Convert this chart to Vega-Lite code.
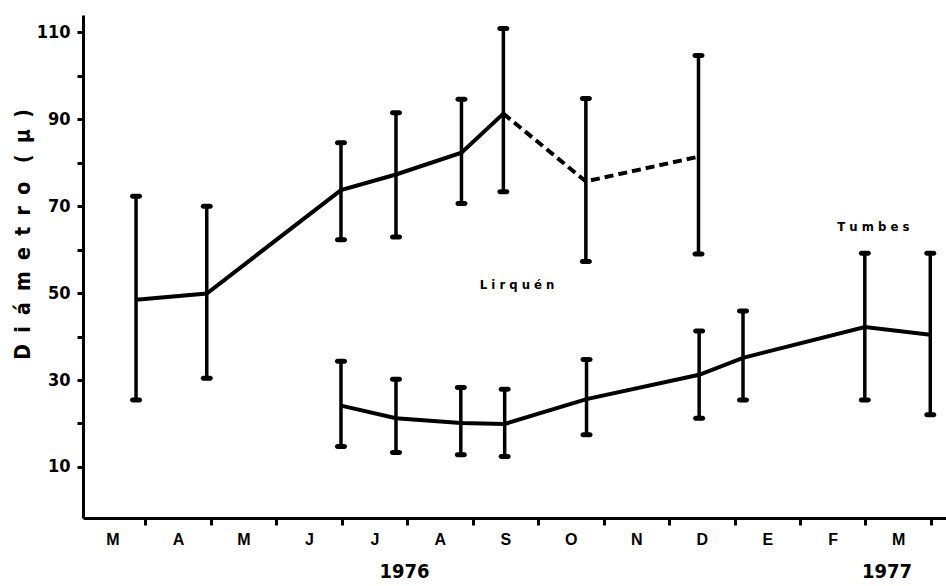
{
  "$schema": "https://vega.github.io/schema/vega-lite/v6.json",
  "width": 863,
  "height": 503,
  "autosize": {"type": "none"},
  "padding": {"left": 83, "top": 15, "right": 0, "bottom": 68},
  "background": "white",
  "config": {"view": {"stroke": null}},
  "datasets": {
    "medidas": [
      {"sitio": "Lirquén", "mes": 0.86, "media": 48.5, "lo": 25.4, "hi": 72.3},
      {"sitio": "Lirquén", "mes": 1.94, "media": 49.9, "lo": 30.4, "hi": 70.0},
      {"sitio": "Lirquén", "mes": 3.99, "media": 73.7, "lo": 62.3, "hi": 84.6},
      {"sitio": "Lirquén", "mes": 4.83, "media": 77.3, "lo": 62.9, "hi": 91.5},
      {"sitio": "Lirquén", "mes": 5.83, "media": 82.3, "lo": 70.6, "hi": 94.6},
      {"sitio": "Lirquén", "mes": 6.47, "media": 91.3, "lo": 73.3, "hi": 110.9},
      {"sitio": "Lirquén", "mes": 7.73, "media": 75.7, "lo": 57.3, "hi": 94.8},
      {"sitio": "Lirquén", "mes": 9.45, "media": 81.4, "lo": 59.0, "hi": 104.7},
      {"sitio": "Tumbes", "mes": 3.99, "media": 24.1, "lo": 14.7, "hi": 34.3},
      {"sitio": "Tumbes", "mes": 4.83, "media": 21.2, "lo": 13.3, "hi": 30.2},
      {"sitio": "Tumbes", "mes": 5.82, "media": 20.1, "lo": 12.8, "hi": 28.3},
      {"sitio": "Tumbes", "mes": 6.49, "media": 19.9, "lo": 12.4, "hi": 27.9},
      {"sitio": "Tumbes", "mes": 7.74, "media": 25.6, "lo": 17.4, "hi": 34.7},
      {"sitio": "Tumbes", "mes": 9.46, "media": 31.2, "lo": 21.2, "hi": 41.3},
      {"sitio": "Tumbes", "mes": 10.13, "media": 35.1, "lo": 25.4, "hi": 45.9},
      {"sitio": "Tumbes", "mes": 11.99, "media": 42.2, "lo": 25.4, "hi": 59.2},
      {"sitio": "Tumbes", "mes": 12.99, "media": 40.4, "lo": 22.0, "hi": 59.2}
    ],
    "rotulos": [
      {"texto": "Lirquén", "mes": 6.68, "valor": 51.9, "clase": "sitio"},
      {"texto": "Tumbes", "mes": 12.12, "valor": 65.3, "clase": "sitio"},
      {"texto": "1976", "mes": 4.96, "valor": -14.2, "clase": "año"},
      {"texto": "1977", "mes": 12.33, "valor": -14.2, "clase": "año"}
    ]
  },
  "layer": [
    {
      "data": {"name": "medidas"},
      "transform": [{"filter": "datum.sitio == 'Lirquén' && datum.mes <= 6.5"}],
      "mark": {"type": "line", "color": "black", "strokeWidth": 4},
      "encoding": {
        "x": {
          "field": "mes", "type": "quantitative",
          "scale": {"domain": [0.05, 13.23], "nice": false, "zero": false},
          "axis": {
            "values": [1, 2, 3, 4, 5, 6, 7, 8, 9, 10, 11, 12, 13],
            "labelExpr": "['M','A','M','J','J','A','S','O','N','D','E','F','M'][datum.value - 1]",
            "labelOffset": -32.75,
            "labelFlush": false,
            "labelBound": false,
            "labelOverlap": false,
            "tickSize": 7, "tickWidth": 3, "tickColor": "black",
            "domainColor": "black", "domainWidth": 3,
            "labelFont": "Liberation Sans, Arial, sans-serif", "labelFontWeight": "bold", "labelFontSize": 16,
            "labelColor": "black", "labelPadding": 6,
            "grid": false, "title": null
          }
        },
        "y": {
          "field": "media", "type": "quantitative",
          "scale": {"domain": [-1.75, 114], "nice": false, "zero": false},
          "axis": {
            "values": [10, 20, 30, 40, 50, 60, 70, 80, 90, 100, 110],
            "labelExpr": "datum.value % 20 == 10 ? datum.label : ''",
            "labelOverlap": false,
            "labelFlush": false,
            "tickSize": 6, "tickWidth": 3, "tickColor": "black",
            "domainColor": "black", "domainWidth": 3,
            "labelFont": "DejaVu Sans Condensed, DejaVu Sans, sans-serif", "labelFontWeight": "bold", "labelFontSize": 18,
            "labelColor": "black", "labelPadding": 7,
            "grid": false,
            "title": "D\u2002\u200ai\u2002\u200aá\u2002\u200am\u2002\u200ae\u2002\u200at\u2002\u200ar\u2002\u200ao\u2002\u2002(\u2002\u200aμ\u2002\u200a)",
            "titleFont": "DejaVu Sans Condensed, DejaVu Sans, sans-serif", "titleFontWeight": "bold", "titleFontSize": 21,
            "titleColor": "black",
            "titleX": -60, "titleY": 219, "titleAlign": "center", "titleBaseline": "middle"
          }
        }
      }
    },
    {
      "data": {"name": "medidas"},
      "transform": [{"filter": "datum.sitio == 'Lirquén' && datum.mes >= 6.4"}],
      "mark": {"type": "line", "color": "black", "strokeWidth": 4, "strokeDash": [9, 5]},
      "encoding": {
        "x": {"field": "mes", "type": "quantitative"},
        "y": {"field": "media", "type": "quantitative"}
      }
    },
    {
      "data": {"name": "medidas"},
      "transform": [{"filter": "datum.sitio == 'Tumbes'"}],
      "mark": {"type": "line", "color": "black", "strokeWidth": 4},
      "encoding": {
        "x": {"field": "mes", "type": "quantitative"},
        "y": {"field": "media", "type": "quantitative"}
      }
    },
    {
      "data": {"name": "medidas"},
      "mark": {"type": "rule", "color": "black", "strokeWidth": 3.5},
      "encoding": {
        "x": {"field": "mes", "type": "quantitative"},
        "y": {"field": "lo", "type": "quantitative"},
        "y2": {"field": "hi"}
      }
    },
    {
      "data": {"name": "medidas"},
      "mark": {"type": "tick", "orient": "horizontal", "color": "black", "size": 12, "thickness": 5, "cornerRadius": 2.5, "opacity": 1},
      "encoding": {
        "x": {"field": "mes", "type": "quantitative"},
        "y": {"field": "lo", "type": "quantitative"}
      }
    },
    {
      "data": {"name": "medidas"},
      "mark": {"type": "tick", "orient": "horizontal", "color": "black", "size": 12, "thickness": 5, "cornerRadius": 2.5, "opacity": 1},
      "encoding": {
        "x": {"field": "mes", "type": "quantitative"},
        "y": {"field": "hi", "type": "quantitative"}
      }
    },
    {
      "data": {"name": "rotulos"},
      "transform": [
        {"filter": "datum.clase == 'sitio'"},
        {"calculate": "join(split(datum.texto, ''), ' ')", "as": "mostrado"}
      ],
      "mark": {"type": "text", "font": "DejaVu Sans Condensed, DejaVu Sans, sans-serif", "fontWeight": "bold", "fontSize": 13, "color": "black", "align": "center", "baseline": "middle"},
      "encoding": {
        "x": {"field": "mes", "type": "quantitative"},
        "y": {"field": "valor", "type": "quantitative"},
        "text": {"field": "mostrado"}
      }
    },
    {
      "data": {"name": "rotulos"},
      "transform": [{"filter": "datum.clase == 'año'"}],
      "mark": {"type": "text", "font": "DejaVu Sans Condensed, DejaVu Sans, sans-serif", "fontWeight": "bold", "fontSize": 20, "color": "black", "align": "center", "baseline": "middle"},
      "encoding": {
        "x": {"field": "mes", "type": "quantitative"},
        "y": {"field": "valor", "type": "quantitative"},
        "text": {"field": "texto"}
      }
    }
  ]
}
